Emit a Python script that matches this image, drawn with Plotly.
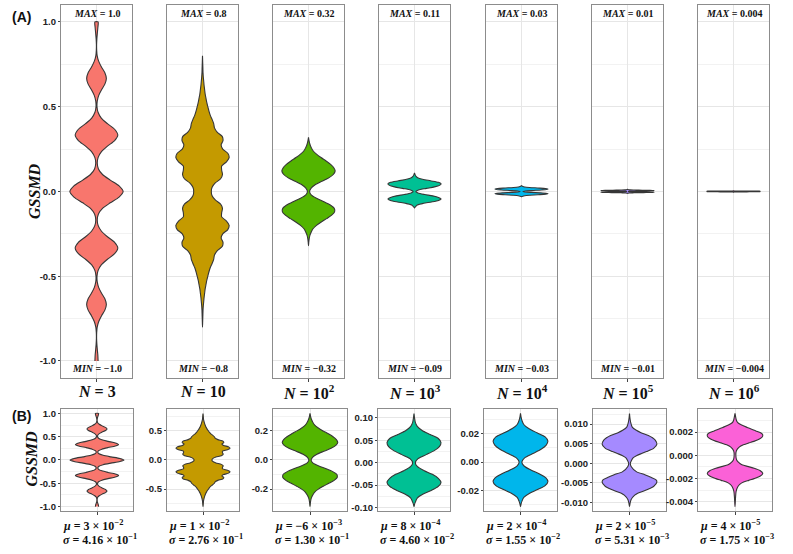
import plotly.graph_objs as go

# values
n_labels = ["N = 3", "N = 10", "N = 10<sup>2</sup>", "N = 10<sup>3</sup>",
            "N = 10<sup>4</sup>", "N = 10<sup>5</sup>", "N = 10<sup>6</sup>"]
colors = ["#F8766D", "#C49A00", "#53B400", "#00C094", "#00B6EB", "#A58AFF", "#FB61D7"]
max_labels = ["1.0", "0.8", "0.32", "0.11", "0.03", "0.01", "0.004"]
min_labels = ["\u22121.0", "\u22120.8", "\u22120.32", "\u22120.09", "\u22120.03", "\u22120.01", "\u22120.004"]
mu_labels = ["3 \u00d7 10<sup>\u22122</sup>", "1 \u00d7 10<sup>\u22122</sup>", "\u22126 \u00d7 10<sup>\u22123</sup>",
             "8 \u00d7 10<sup>\u22124</sup>", "2 \u00d7 10<sup>\u22124</sup>", "2 \u00d7 10<sup>\u22125</sup>",
             "4 \u00d7 10<sup>\u22125</sup>"]
sigma_labels = ["4.16 \u00d7 10<sup>\u22121</sup>", "2.76 \u00d7 10<sup>\u22121</sup>", "1.30 \u00d7 10<sup>\u22121</sup>",
                "4.60 \u00d7 10<sup>\u22122</sup>", "1.55 \u00d7 10<sup>\u22122</sup>", "5.31 \u00d7 10<sup>\u22123</sup>",
                "1.75 \u00d7 10<sup>\u22123</sup>"]

# violin outlines: GSSMD level and relative density (1 = widest point of that violin)
gssmd_n3 = [-1.0, -0.967, -0.933, -0.9, -0.867, -0.833, -0.8, -0.767, -0.733, -0.7, -0.667,
            -0.633, -0.6, -0.567, -0.533, -0.5, -0.467, -0.433, -0.4, -0.367, -0.333,
            -0.3, -0.267, -0.233, -0.2, -0.167, -0.133, -0.1, -0.067, -0.033, 0.0,
            0.033, 0.067, 0.1, 0.133, 0.167, 0.2, 0.233, 0.267, 0.3, 0.333,
            0.367, 0.4, 0.433, 0.467, 0.5, 0.533, 0.567, 0.6, 0.633, 0.667,
            0.7, 0.733, 0.767, 0.8, 0.833, 0.867, 0.9, 0.933, 0.967, 1.0]
density_n3 = [0.06, 0.051, 0.031, 0.014, 0.004, 0.007, 0.026, 0.084, 0.19, 0.314, 0.37,
              0.314, 0.19, 0.084, 0.028, 0.019, 0.058, 0.18, 0.41, 0.68, 0.8,
              0.68, 0.41, 0.18, 0.06, 0.029, 0.073, 0.226, 0.516, 0.848, 1.0,
              0.848, 0.516, 0.226, 0.073, 0.029, 0.06, 0.18, 0.41, 0.68, 0.8,
              0.68, 0.41, 0.18, 0.058, 0.019, 0.028, 0.084, 0.19, 0.314, 0.37,
              0.314, 0.19, 0.084, 0.026, 0.007, 0.004, 0.014, 0.031, 0.051, 0.06]

gssmd_n10 = [-0.8, -0.775, -0.75, -0.725, -0.7, -0.675, -0.65, -0.625, -0.6, -0.575, -0.55,
             -0.525, -0.5, -0.475, -0.45, -0.425, -0.4, -0.375, -0.35, -0.325, -0.3,
             -0.275, -0.25, -0.225, -0.2, -0.175, -0.15, -0.125, -0.1, -0.075, -0.05,
             -0.025, 0.0, 0.025, 0.05, 0.075, 0.1, 0.125, 0.15, 0.175, 0.2,
             0.225, 0.25, 0.275, 0.3, 0.325, 0.35, 0.375, 0.4, 0.425, 0.45,
             0.475, 0.5, 0.525, 0.55, 0.575, 0.6, 0.625, 0.65, 0.675, 0.7,
             0.725, 0.75, 0.775, 0.8]
density_n10 = [0.0, 0.005, 0.01, 0.015, 0.02, 0.03, 0.045, 0.06, 0.08, 0.1, 0.13,
               0.16, 0.2, 0.24, 0.29, 0.36, 0.42, 0.45, 0.55, 0.74, 0.77,
               0.7, 0.76, 0.95, 1.0, 0.9, 0.72, 0.72, 0.75, 0.68, 0.48,
               0.36, 0.33, 0.36, 0.48, 0.68, 0.75, 0.72, 0.72, 0.9, 1.0,
               0.95, 0.76, 0.7, 0.77, 0.74, 0.55, 0.45, 0.42, 0.36, 0.29,
               0.24, 0.2, 0.16, 0.13, 0.1, 0.08, 0.06, 0.045, 0.03, 0.02,
               0.015, 0.01, 0.005, 0.0]

gssmd_n1e2 = [-0.32, -0.30, -0.28, -0.26, -0.24, -0.22, -0.20, -0.18, -0.16, -0.14, -0.12,
              -0.10, -0.08, -0.06, -0.04, -0.02, 0.0, 0.02, 0.04, 0.06, 0.08, 0.10,
              0.12, 0.14, 0.16, 0.18, 0.20, 0.22, 0.24, 0.26, 0.28, 0.30, 0.32]
density_n1e2 = [0.0, 0.01, 0.025, 0.05, 0.1, 0.17, 0.3, 0.48, 0.68, 0.87, 0.98,
                0.97, 0.82, 0.58, 0.3, 0.1, 0.04, 0.1, 0.25, 0.5, 0.76, 0.93,
                1.0, 0.95, 0.83, 0.66, 0.47, 0.3, 0.17, 0.1, 0.05, 0.02, 0.0]

gssmd_n1e3 = [-0.098, -0.093, -0.088, -0.079, -0.07, -0.062, -0.053, -0.044, -0.035, -0.026,
              -0.018, -0.009, 0.0, 0.009, 0.018, 0.027, 0.036, 0.045, 0.054, 0.063,
              0.072, 0.081, 0.09, 0.1, 0.11]
density_n1e3 = [0.0, 0.02, 0.05, 0.12, 0.34, 0.64, 0.9, 1.0, 0.9, 0.68,
                0.38, 0.13, 0.05, 0.15, 0.45, 0.75, 0.94, 1.0, 0.9, 0.6,
                0.3, 0.12, 0.05, 0.02, 0.0]

gssmd_n1e4 = [-0.0315, -0.0297, -0.0278, -0.025, -0.0222, -0.0195, -0.0167, -0.0139, -0.0111,
              -0.0083, -0.0056, -0.0028, 0.0, 0.003, 0.006, 0.009, 0.012, 0.0148, 0.0178,
              0.0207, 0.0237, 0.0266, 0.0296, 0.032, 0.0344]
density_n1e4 = [0.0, 0.02, 0.05, 0.12, 0.32, 0.62, 0.9, 1.0, 0.92,
                0.68, 0.38, 0.13, 0.05, 0.15, 0.45, 0.75, 0.94, 1.0, 0.9,
                0.6, 0.3, 0.12, 0.05, 0.02, 0.0]

gssmd_n1e5 = [-0.011, -0.0102, -0.0092, -0.0081, -0.0076, -0.0071, -0.0065, -0.0059, -0.0048,
              -0.0042, -0.0036, -0.0029, -0.0021, -0.0008, 0.0, 0.0007, 0.0014, 0.002,
              0.0025, 0.003, 0.0038, 0.0049, 0.0059, 0.0065, 0.0071, 0.0078, 0.0084,
              0.0092, 0.0105, 0.0116, 0.0127]
density_n1e5 = [0.0, 0.02, 0.06, 0.19, 0.3, 0.5, 0.7, 0.88, 1.0,
                0.97, 0.8, 0.56, 0.25, 0.06, 0.03, 0.07, 0.13, 0.27,
                0.44, 0.62, 0.88, 1.0, 0.94, 0.84, 0.69, 0.42, 0.25,
                0.1, 0.04, 0.015, 0.0]

gssmd_n1e6 = [-0.0044, -0.0036, -0.0031, -0.0027, -0.0025, -0.0023, -0.00215, -0.002, -0.0018,
              -0.00155, -0.0013, -0.0011, -0.00095, -0.0008, -0.0006, -0.0004, 0.0, 0.0004,
              0.0007, 0.0009, 0.00107, 0.0012, 0.0014, 0.00158, 0.00175, 0.0019, 0.0021,
              0.00225, 0.0024, 0.0026, 0.00276, 0.0029, 0.0031, 0.0036]
density_n1e6 = [0.0, 0.02, 0.04, 0.1, 0.17, 0.31, 0.5, 0.69, 0.9,
                1.0, 0.9, 0.69, 0.45, 0.25, 0.13, 0.06, 0.03, 0.05,
                0.15, 0.3, 0.5, 0.68, 0.88, 0.98, 1.0, 0.95, 0.75,
                0.6, 0.44, 0.24, 0.125, 0.07, 0.04, 0.0]

a_tick_vals = [-1.0, -0.5, 0.0, 0.5, 1.0]
a_tick_text = ["-1.0", "-0.5", "0.0", "0.5", "1.0"]
b_tick_vals = [[-1.0, -0.5, 0.0, 0.5, 1.0], [-0.5, 0.0, 0.5], [-0.2, 0.0, 0.2],
               [-0.1, -0.05, 0.0, 0.05, 0.1], [-0.02, 0.0, 0.02],
               [-0.01, -0.005, 0.0, 0.005, 0.01], [-0.004, -0.002, 0.0, 0.002]]
b_tick_text = [["-1.0", "-0.5", "0.0", "0.5", "1.0"], ["-0.5", "0.0", "0.5"], ["-0.2", "0.0", "0.2"],
               ["-0.10", "-0.05", "0.00", "0.05", "0.10"], ["-0.02", "0.00", "0.02"],
               ["-0.010", "-0.005", "0.000", "0.005", "0.010"], ["-0.004", "-0.002", "0.000", "0.002"]]

profiles = [(gssmd_n3, density_n3), (gssmd_n10, density_n10), (gssmd_n1e2, density_n1e2),
            (gssmd_n1e3, density_n1e3), (gssmd_n1e4, density_n1e4), (gssmd_n1e5, density_n1e5),
            (gssmd_n1e6, density_n1e6)]

# layout, in pixels of the 793 x 554 picture
W, H = 793, 554
HALF = 0.45
a_left = [61, 167, 273, 379, 486, 592, 698]
a_width = 71
a_top, a_bottom = 4, 379
b_left = [61, 167, 273, 378, 484, 593, 698]
b_right = [133, 239, 347, 450, 557, 666, 772]
b_top, b_bottom = 410, 513

GRID = "#e6e6e6"
MINOR = "#f2f2f2"
BORDER = "#8c8c8c"
SERIF = "Liberation Serif"
tick_font = dict(family="Liberation Sans", size=9.5, color="#222222", weight="bold")


def fx(p):
    return p / W


def fy(p):
    return 1 - p / H


def ax_name(kind, k):
    return kind if k == 1 else kind + str(k)


def violin(levels, density, color, k):
    right = [d * HALF for d in density]
    left = [-d * HALF for d in reversed(density)]
    return go.Scatter(x=right + left, y=list(levels) + list(reversed(levels)),
                      fill="toself", fillcolor=color, mode="lines",
                      line=dict(color="#363636", width=1.1, shape="spline", smoothing=0.7),
                      xaxis=ax_name("x", k), yaxis=ax_name("y", k),
                      hoverinfo="skip", showlegend=False)


def add_axes(layout, k, x0, x1, y0, y1, yrange, tickvals, ticktext, labels):
    step = tickvals[1] - tickvals[0]
    minor_vals = [t - step / 2 for t in tickvals] + [tickvals[-1] + step / 2]
    layout[ax_name("xaxis", k)] = dict(
        domain=[fx(x0), fx(x1)], anchor=ax_name("y", k), range=[-0.6, 0.6],
        tickvals=[0], ticktext=[""], ticks="outside", ticklen=3, tickcolor="#444444",
        showgrid=True, gridcolor=GRID, zeroline=False,
        showline=True, mirror=True, linecolor=BORDER, linewidth=1.2, fixedrange=True)
    layout[ax_name("yaxis", k)] = dict(
        domain=[fy(y1), fy(y0)], anchor=ax_name("x", k), range=yrange,
        tickvals=tickvals, ticktext=ticktext, showticklabels=labels,
        ticks="outside" if labels else "", ticklen=2, tickcolor="#444444", tickfont=tick_font,
        showgrid=True, gridcolor=GRID, zeroline=False,
        minor=dict(tickmode="array", tickvals=minor_vals, showgrid=True, gridcolor=MINOR, ticks=""),
        showline=True, mirror=True, linecolor=BORDER, linewidth=1.2, fixedrange=True)


def text_at(px, py, text, size, family=SERIF, xanchor="center", angle=0):
    return dict(xref="paper", yref="paper", x=fx(px), y=fy(py), text=text, showarrow=False,
                xanchor=xanchor, yanchor="middle", textangle=angle,
                font=dict(family=family, size=size, color="#111111"))


fig = go.Figure()
layout = {}
annotations = []

for i, (levels, density) in enumerate(profiles):
    # panel (A): common scale
    k = i + 1
    fig.add_trace(violin(levels, density, colors[i], k))
    add_axes(layout, k, a_left[i], a_left[i] + a_width, a_top, a_bottom,
             [-1.1, 1.1], a_tick_vals, a_tick_text, i == 0)
    annotations.append(dict(xref=ax_name("x", k), yref=ax_name("y", k), x=0, y=1.047,
                            xanchor="center", yanchor="middle",
                            text="<b><i>MAX</i> = " + max_labels[i] + "</b>", showarrow=False,
                            font=dict(family=SERIF, size=10, color="#111111")))
    annotations.append(dict(xref=ax_name("x", k), yref=ax_name("y", k), x=0, y=-1.047,
                            xanchor="center", yanchor="middle",
                            text="<b><i>MIN</i> = " + min_labels[i] + "</b>", showarrow=False,
                            font=dict(family=SERIF, size=10, color="#111111")))
    name = n_labels[i].replace("N", "<i>N</i>", 1)
    annotations.append(text_at(a_left[i] + a_width / 2, 393, "<b>" + name + "</b>", 16))

    # panel (B): own scale per N
    k = i + 8
    fig.add_trace(violin(levels, density, colors[i], k))
    lo, hi = min(levels), max(levels)
    pad = 0.05 * (hi - lo)
    add_axes(layout, k, b_left[i], b_right[i], b_top, b_bottom,
             [lo - pad, hi + pad], b_tick_vals[i], b_tick_text[i], True)
    annotations.append(text_at(b_left[i], 527, "<b><i>\u03bc</i> = " + mu_labels[i] + "</b>",
                               12, xanchor="left"))
    annotations.append(text_at(b_left[i], 541, "<b><i>\u03c3</i> = " + sigma_labels[i] + "</b>",
                               12, xanchor="left"))

annotations.append(text_at(21, 16, "<b>(A)</b>", 14, family="Liberation Sans"))
annotations.append(text_at(21, 417, "<b>(B)</b>", 14, family="Liberation Sans"))
annotations.append(text_at(35, 191, "<b><i>GSSMD</i></b>", 16, angle=-90))
annotations.append(text_at(32, 460, "<b><i>GSSMD</i></b>", 16, angle=-90))

fig.update_layout(layout)
fig.update_layout(width=W, height=H, margin=dict(l=0, r=0, t=0, b=0),
                  paper_bgcolor="white", plot_bgcolor="white",
                  annotations=annotations, hovermode=False, showlegend=False)
# the page body has a default 8 px margin; drop it so the figure fills the window
fig.write_html("out.html", config={"displayModeBar": False},
               post_script="document.body.style.margin = '0';")
